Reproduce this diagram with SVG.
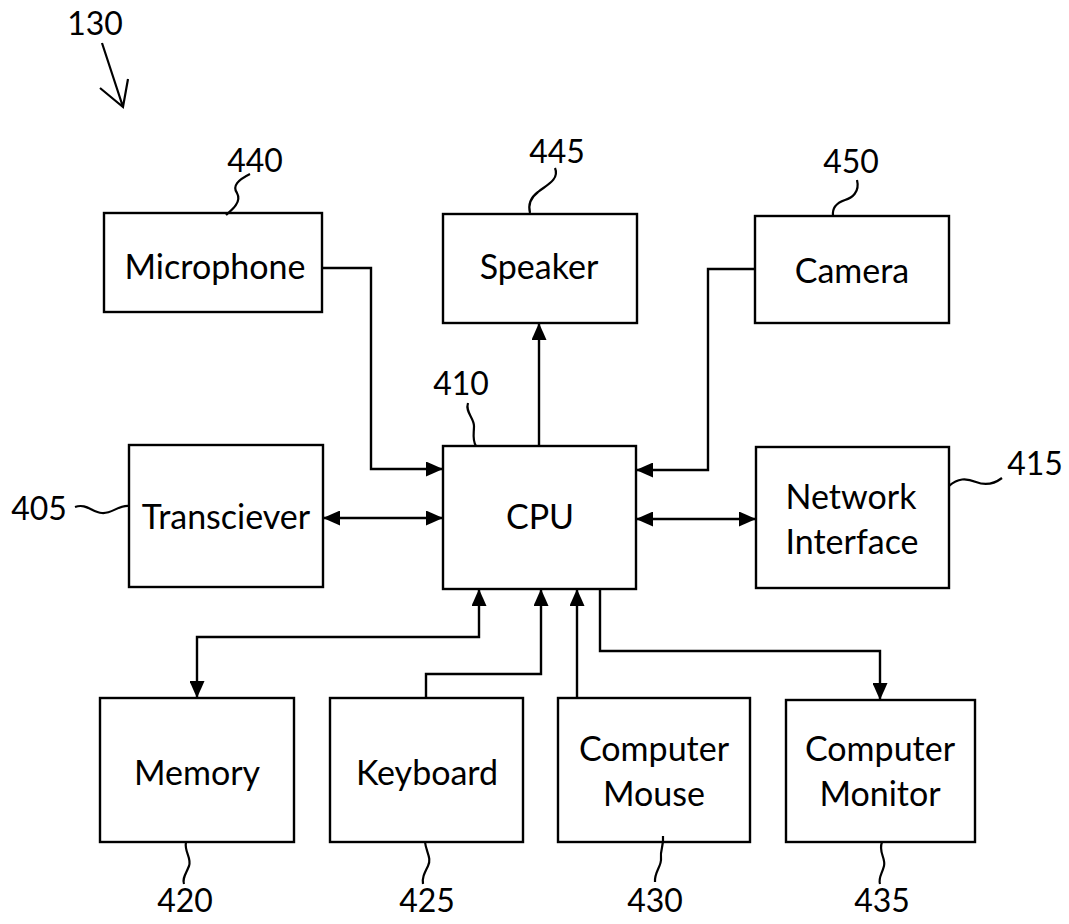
<svg xmlns="http://www.w3.org/2000/svg" width="1069" height="924" viewBox="0 0 1069 924">
<style>
.box{fill:#fff;stroke:#000;stroke-width:2.4}
.t{font-family:Lato,"Open Sans",sans-serif;font-size:34px;fill:#000;text-anchor:middle}
.n{font-family:Lato,"Open Sans",sans-serif;font-size:32px;fill:#000;text-anchor:middle}
.c{fill:none;stroke:#000;stroke-width:2.4}
.sq{fill:none;stroke:#000;stroke-width:2.2}
</style>
<defs>
<marker id="ah" markerUnits="userSpaceOnUse" markerWidth="17" markerHeight="15" refX="17" refY="7.5" orient="auto-start-reverse">
<path d="M0,0 L17,7.5 L0,15 z" fill="#000"/>
</marker>
</defs>
<rect width="1069" height="924" fill="#fff"/>
<g id="ref130">
<text class="n" x="95" y="35">130</text>
<path class="sq" d="M102,43 L123,107 M100,88 L123,107 L128,79"/>
</g>
<g id="connectors">
<path class="c" d="M322,268 H371 V469 H443" marker-end="url(#ah)"/>
<path class="c" d="M755,269 H708 V470 H636" marker-end="url(#ah)"/>
<path class="c" d="M323,518 H443" marker-start="url(#ah)" marker-end="url(#ah)"/>
<path class="c" d="M636,519 H756" marker-start="url(#ah)" marker-end="url(#ah)"/>
<path class="c" d="M539,446 V323" marker-end="url(#ah)"/>
<path class="c" d="M479,589 V637 H197 V698" marker-start="url(#ah)" marker-end="url(#ah)"/>
<path class="c" d="M426,698 V674 H541 V589" marker-end="url(#ah)"/>
<path class="c" d="M577,698 V589" marker-end="url(#ah)"/>
<path class="c" d="M600,589 V651 H880 V700" marker-end="url(#ah)"/>
</g>
<g id="microphone">
<rect class="box" x="104" y="213" width="218" height="99"/>
<text class="t" x="215" y="279">Microphone</text>
<text class="n" x="255" y="172">440</text>
<path class="sq" d="M250,174 C238,180 232,186 237,193 C242,202 232,210 226,215"/>
</g>
<g id="speaker">
<rect class="box" x="443" y="214" width="194" height="109"/>
<text class="t" x="539" y="279">Speaker</text>
<text class="n" x="557" y="163">445</text>
<path class="sq" d="M555,168 C560,180 545,186 538,192 C530,198 528,205 530,213"/>
</g>
<g id="camera">
<rect class="box" x="755" y="216" width="194" height="107"/>
<text class="t" x="852" y="283">Camera</text>
<text class="n" x="851" y="173">450</text>
<path class="sq" d="M857,180 C860,192 852,198 845,200 C836,203 832,208 833,216"/>
</g>
<g id="cpu">
<rect class="box" x="443" y="446" width="193" height="143"/>
<text class="t" x="540" y="529">CPU</text>
<text class="n" x="461" y="395">410</text>
<path class="sq" d="M468,403 C465,412 474,418 474,426 C474,434 472,440 476,446"/>
</g>
<g id="transceiver">
<rect class="box" x="129" y="445" width="194" height="142"/>
<text class="t" x="226" y="529">Transciever</text>
<text class="n" x="39" y="520">405</text>
<path class="sq" d="M75,507 C86,503 92,512 102,513 C112,514 118,505 129,506"/>
</g>
<g id="network">
<rect class="box" x="756" y="447" width="193" height="141"/>
<text class="t" x="851" y="509">Network</text>
<text class="t" x="852" y="554">Interface</text>
<text class="n" x="1035" y="475">415</text>
<path class="sq" d="M949,486 C958,478 966,478 976,482 C986,486 994,484 1002,478"/>
</g>
<g id="memory">
<rect class="box" x="100" y="698" width="194" height="144"/>
<text class="t" x="197" y="785">Memory</text>
<text class="n" x="185" y="912">420</text>
<path class="sq" d="M186,842 C184,852 192,858 189,866 C186,874 182,878 184,884"/>
</g>
<g id="keyboard">
<rect class="box" x="330" y="698" width="193" height="144"/>
<text class="t" x="427" y="785">Keyboard</text>
<text class="n" x="427" y="912">425</text>
<path class="sq" d="M425,842 C426,852 432,858 428,866 C424,874 422,878 423,884"/>
</g>
<g id="mouse">
<rect class="box" x="558" y="698" width="192" height="144"/>
<text class="t" x="654" y="761">Computer</text>
<text class="t" x="654" y="806">Mouse</text>
<text class="n" x="655" y="912">430</text>
<path class="sq" d="M663,836 C664,846 660,850 661,858 C662,866 654,872 655,882"/>
</g>
<g id="monitor">
<rect class="box" x="786" y="700" width="189" height="142"/>
<text class="t" x="880" y="761">Computer</text>
<text class="t" x="880" y="806">Monitor</text>
<text class="n" x="882" y="912">435</text>
<path class="sq" d="M882,842 C878,852 886,858 884,866 C882,874 878,878 880,884"/>
</g>
</svg>
